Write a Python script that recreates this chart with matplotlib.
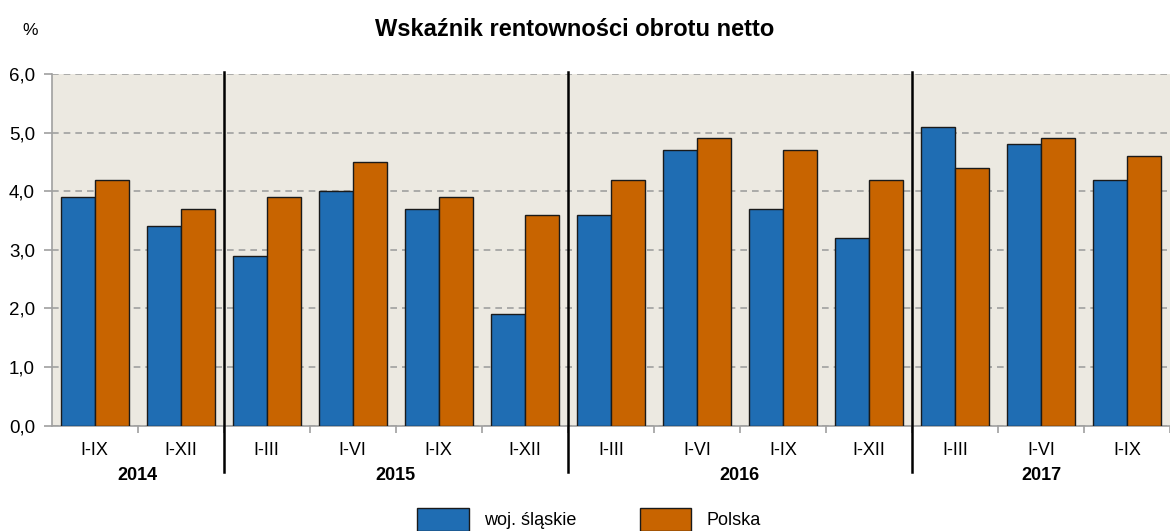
import matplotlib.pyplot as plt
import matplotlib.transforms as mtransforms
import numpy as np

plt.rcParams['font.family'] = ['Liberation Sans', 'DejaVu Sans']

okresy = ["I-IX", "I-XII",
          "I-III", "I-VI", "I-IX", "I-XII",
          "I-III", "I-VI", "I-IX", "I-XII",
          "I-III", "I-VI", "I-IX"]
lata = ["2014", "2015", "2016", "2017"]
okresy_w_roku = [2, 4, 4, 3]
slaskie = [3.9, 3.4, 2.9, 4.0, 3.7, 1.9, 3.6, 4.7, 3.7, 3.2, 5.1, 4.8, 4.2]
polska = [4.2, 3.7, 3.9, 4.5, 3.9, 3.6, 4.2, 4.9, 4.7, 4.2, 4.4, 4.9, 4.6]

NIEBIESKI = "#1F6DB3"
POMARANCZ = "#C86400"
TLO = "#ECE9E1"


def rysuj_wykres():
    fig = plt.figure(figsize=(11.7, 5.31), dpi=100)
    ax = fig.add_axes([51.7 / 1170, 105.3 / 531, 1 - 51.7 / 1170, 351.7 / 531])
    ax.set_facecolor(TLO)

    x = np.arange(len(okresy))
    w = 0.393
    ax.bar(x - w / 2, slaskie, w, color=NIEBIESKI, edgecolor="#1a1a1a", linewidth=1, label="woj. śląskie", zorder=3)
    ax.bar(x + w / 2, polska, w, color=POMARANCZ, edgecolor="#1a1a1a", linewidth=1, label="Polska", zorder=3)

    ax.set_ylim(0, 6)
    ax.set_xlim(-0.5, -0.5 + (1170 - 51.7) / 86.5)
    ax.set_yticks(range(7))
    ax.set_yticklabels([f"{v},0" for v in range(7)], fontsize=13.5)
    ax.yaxis.grid(True, linestyle=(0, (4, 3)), color="#A0A0A0", linewidth=1.2, zorder=1)

    ax.set_xticks(x)
    ax.set_xticklabels(okresy, fontsize=13)
    ax.tick_params(axis="x", which="major", length=0, pad=12)
    ax.set_xticks(np.arange(0.5, len(okresy), 1), minor=True)
    ax.tick_params(axis="x", which="minor", length=5, color="#A0A0A0", width=1.2)
    ax.tick_params(axis="y", length=6, color="#A0A0A0", width=1.2, pad=6)

    for s in ["top", "right"]:
        ax.spines[s].set_visible(False)
    for s in ["left", "bottom"]:
        ax.spines[s].set_color("#A0A0A0")
        ax.spines[s].set_linewidth(1.2)

    # linie oddzielajace lata i podpisy lat
    trans = mtransforms.blended_transform_factory(ax.transData, ax.transAxes)
    start = 0
    for i, (rok, n) in enumerate(zip(lata, okresy_w_roku)):
        srodek = start + (n - 1) / 2
        ax.text(srodek, -0.142, rok, transform=trans, ha="center", va="center",
                fontsize=13, fontweight="bold")
        if i > 0:
            ax.plot([start - 0.5, start - 0.5], [-0.131, 1.006], transform=trans,
                    color="black", linewidth=1.8, clip_on=False, zorder=5)
        start += n

    fig.text(575 / 1170, 1 - 30 / 531, "Wskaźnik rentowności obrotu netto",
             ha="center", va="center", fontsize=17, fontweight="bold")
    fig.text(30 / 1170, 1 - 31 / 531, "%", ha="center", va="center", fontsize=12.5)

    fig.legend(loc="upper left", bbox_to_anchor=(410 / 1170, 1 - 501 / 531), ncol=2,
               frameon=False, fontsize=13, handlelength=2.85, handleheight=1.55,
               handletextpad=0.85, columnspacing=3.5, borderaxespad=0)

    fig.savefig("out.png", dpi=100)


if __name__ == "__main__":
    rysuj_wykres()
